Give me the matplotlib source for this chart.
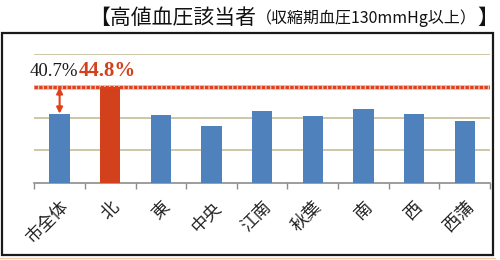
import matplotlib
matplotlib.use('Agg')
import matplotlib.pyplot as plt
from matplotlib.patches import Rectangle
from matplotlib.lines import Line2D

plt.rcParams['font.family'] = ['Noto Sans CJK JP', 'DejaVu Sans']

# data
areas = ['市全体', '北', '東', '中央', '江南', '秋葉', '南', '西', '西蒲']
rates = [40.7, 44.8, 40.5, 38.8, 41.1, 40.35, 41.4, 40.6, 39.6]
highlight = 1  # 北

blue = '#4f81bd'
red = '#d2401c'
grid_col = '#c4bd97'

fig = plt.figure(figsize=(5, 2.6), dpi=100)
ax = fig.add_axes([0.0686, 0.2973, 0.98 - 0.0686, 0.7935 - 0.2973])

colors = [red if i == highlight else blue for i in range(len(areas))]
x = list(range(len(areas)))
ax.bar(x, rates, width=0.4, color=colors, zorder=3)

ax.set_ylim(30, 50)
ax.set_xlim(-0.5, len(areas) - 0.5)
ax.set_yticks([35, 40, 45, 50])
ax.yaxis.grid(True, color=grid_col, lw=1.2, zorder=1)
ax.tick_params(axis='y', length=0, labelleft=False)
for s in ['left', 'right', 'top']:
    ax.spines[s].set_visible(False)
ax.spines['bottom'].set_color('#8c8c8c')
ax.spines['bottom'].set_linewidth(1.2)

ax.set_xticks(x)
ax.set_xticklabels(areas, rotation=45, ha='right', rotation_mode='anchor',
                   fontsize=12.5, color='#222222')
ax.set_xticks([i - 0.5 for i in range(len(areas) + 1)], minor=True)
ax.tick_params(axis='x', which='major', length=0, pad=11)
ax.tick_params(axis='x', which='minor', length=4, width=1, color='#8c8c8c', direction='out')

# reference line for 北
ax.axhline(rates[highlight], color='#f4c0b0', lw=3.5, zorder=2)
ax.axhline(rates[highlight], color='#e0401c', lw=2.2, ls=(0, (1.1, 0.45)), zorder=4)

# arrow between 市全体 and 北
ax.annotate('', xy=(0, rates[highlight]), xytext=(0, rates[0]),
            arrowprops=dict(arrowstyle='<|-|>', color='#e0401c', lw=1.5,
                            mutation_scale=9, shrinkA=0, shrinkB=0), zorder=5)

ax.text(0.37, 47.2, '%.1f%%' % rates[0], ha='right', va='center',
        family='Liberation Serif', fontsize=13.5, color='#1a1a1a', clip_on=False)
ax.text(0.38, 47.3, '%.1f%%' % rates[highlight], ha='left', va='center',
        family='Liberation Serif', fontsize=15, fontweight='bold', color='#d2401c',
        clip_on=False)

# frame
fig.patches.append(Rectangle((1.5 / 500, 1 - 255 / 260), 491 / 500, 222 / 260,
                             transform=fig.transFigure, fill=False,
                             ec='#1a1a1a', lw=1.6))
fig.lines.append(Line2D([0, 0.99], [1 - 257.5 / 260] * 2, transform=fig.transFigure,
                        color='#f2c8a8', lw=1))

# title built from pieces, right aligned
fig.canvas.draw()
r = fig.canvas.get_renderer()
ty = 1 - 18 / 260
t3 = fig.text(498 / 500, ty, '】', ha='right', va='center', fontsize=15, color='#111111')
bb = t3.get_window_extent(r)
t2 = fig.text(bb.x0 / 500, ty, '（収縮期血圧130mmHg以上）', ha='right', va='center',
              fontsize=11.5, color='#111111')
bb = t2.get_window_extent(r)
fig.text(bb.x0 / 500, ty, '【高値血圧該当者', ha='right', va='center',
         fontsize=15, color='#111111')

fig.savefig('out.png', dpi=100)
